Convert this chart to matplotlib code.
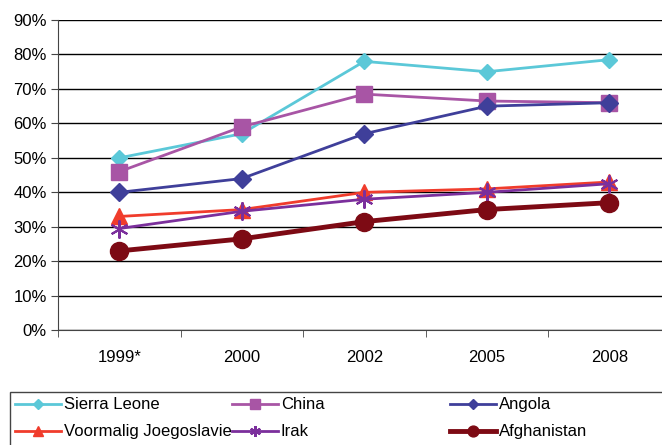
import matplotlib
matplotlib.use("Agg")
import matplotlib.pyplot as plt
from matplotlib.patches import Rectangle
from matplotlib.ticker import FuncFormatter, FixedLocator

plt.rcParams['font.family'] = ['Liberation Sans', 'DejaVu Sans']

years = ['1999*', '2000', '2002', '2005', '2008']

sierra_leone = [50, 57, 78, 75, 78.5]
china = [46, 59, 68.5, 66.5, 66]
angola = [40, 44, 57, 65, 66]
joegoslavie = [33, 35, 40, 41, 43]
irak = [29.5, 34.5, 38, 40, 42.5]
afghanistan = [23, 26.5, 31.5, 35, 37]

fig = plt.figure(figsize=(6.62, 4.45), dpi=100)
ax = fig.add_axes([0.0876, 0.258, 0.9124, 0.697])

x = range(len(years))
l1, = ax.plot(x, sierra_leone, color='#5bc8d8', lw=2, marker='D', ms=8, label='Sierra Leone')
l2, = ax.plot(x, china, color='#a855a5', lw=2, marker='s', ms=11, label='China')
l3, = ax.plot(x, angola, color='#3f3f9a', lw=2, marker='D', ms=9, label='Angola')
l4, = ax.plot(x, joegoslavie, color='#f03c2c', lw=2, marker='^', ms=11, label='Voormalig Joegoslavie')
l5, = ax.plot(x, irak, color='#7b2f9c', lw=2, marker=(6, 2, 0), ms=13, mew=1.5, label='Irak')
l6, = ax.plot(x, afghanistan, color='#7d0a14', lw=3.5, marker='o', ms=13, label='Afghanistan')

ax.set_xlim(-0.5, 4.43)
ax.set_ylim(0, 90)
ax.set_yticks(range(0, 91, 10))
ax.yaxis.set_major_formatter(FuncFormatter(lambda v, p: '%d%%' % v))
ax.yaxis.grid(True, color='black', lw=1)
ax.set_axisbelow(True)

ax.set_xticks(list(x))
ax.set_xticklabels(years)
ax.xaxis.set_minor_locator(FixedLocator([-0.5, 0.5, 1.5, 2.5, 3.5]))
ax.tick_params(axis='x', which='major', length=0, pad=14, labelsize=12)
ax.tick_params(axis='x', which='minor', length=5, color='#444444')
ax.tick_params(axis='y', length=5, labelsize=12, pad=3, color='#444444')

for s in ['top', 'right']:
    ax.spines[s].set_visible(False)
ax.spines['left'].set_color('#444444')
ax.spines['bottom'].set_color('#444444')

# legend box, filled row by row like the original
fig.patches.append(Rectangle((0.0151, -0.01), 1.0, 0.129, transform=fig.transFigure,
                             fill=False, edgecolor='#444444', lw=1))
cols = [[l1, l4], [l2, l5], [l3, l6]]
col_x = [0.0227, 0.350, 0.680]
for hs, cx in zip(cols, col_x):
    fig.legend(handles=hs, loc='upper left', bbox_to_anchor=(cx, 0.107), frameon=False,
               fontsize=12, handlelength=2.75, handletextpad=0.2, borderpad=0,
               borderaxespad=0, labelspacing=0.72, markerscale=0.6)

fig.savefig('out.png', dpi=100)
